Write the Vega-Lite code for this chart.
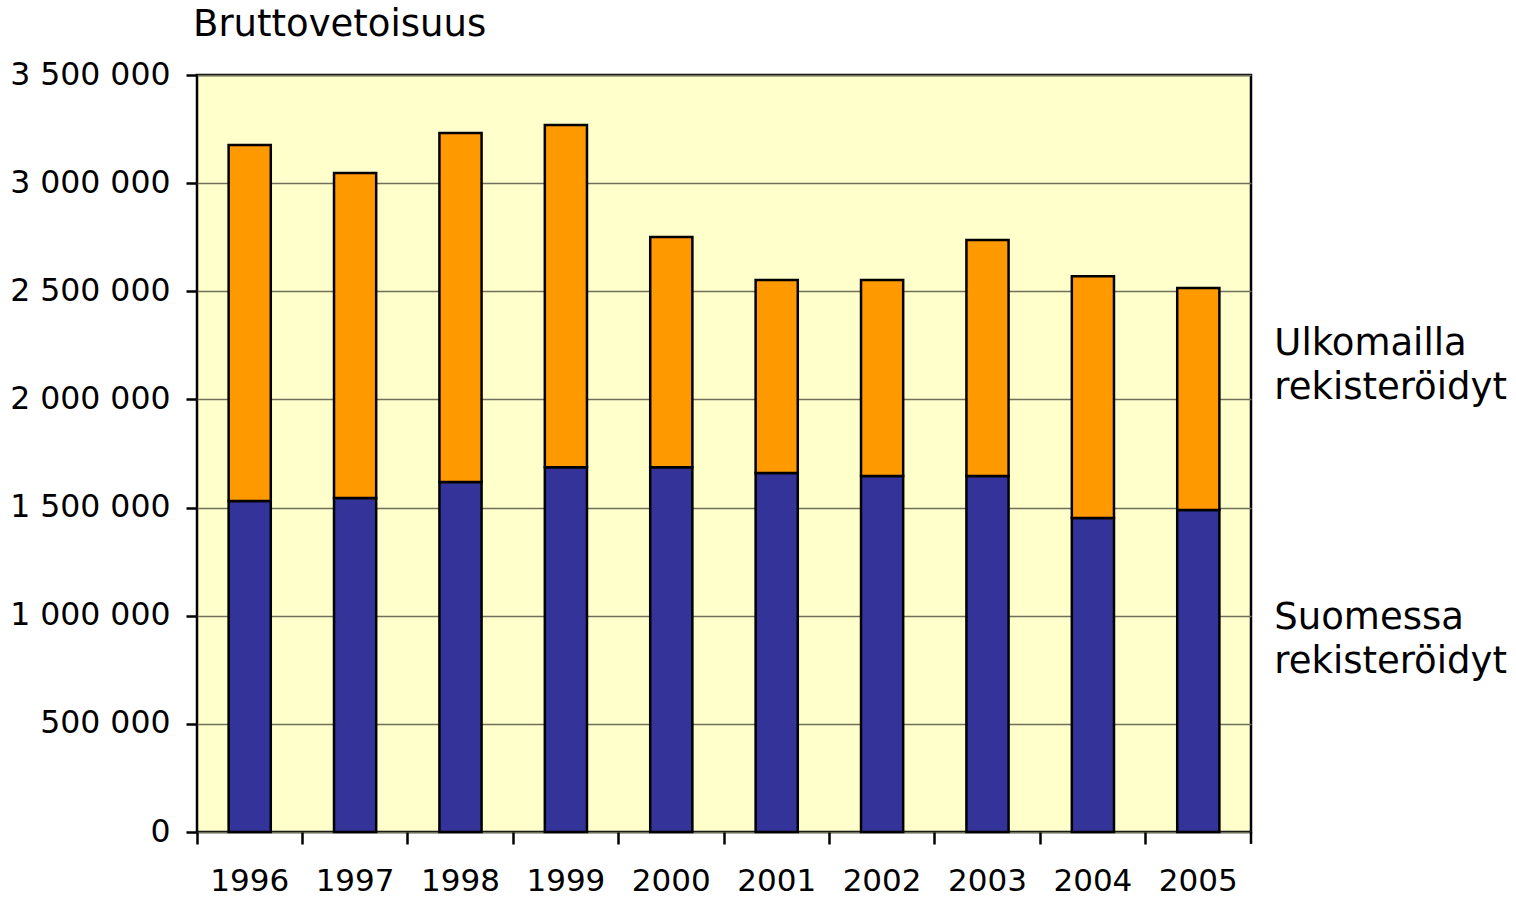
{
  "$schema": "https://vega.github.io/schema/vega-lite/v6.json",
  "autosize": {"type": "none"},
  "padding": {"left": 197, "top": 75, "right": 265, "bottom": 68},
  "width": 1054,
  "height": 757,
  "background": "#FFFFFF",
  "config": {
    "font": "DejaVu Sans",
    "view": {"fill": "#FFFFCC", "stroke": "#000000", "strokeWidth": 2.5}
  },
  "title": {
    "text": "Bruttovetoisuus",
    "anchor": "start",
    "frame": "group",
    "fontSize": 37,
    "fontWeight": "normal",
    "font": "DejaVu Sans",
    "color": "#000000",
    "baseline": "alphabetic",
    "offset": -14,
    "dx": -4
  },
  "data": {
    "values": [
      {"year": 1996, "series": "Suomessa rekisteröidyt", "gt": 1530000},
      {"year": 1996, "series": "Ulkomailla rekisteröidyt", "gt": 1646000},
      {"year": 1997, "series": "Suomessa rekisteröidyt", "gt": 1544000},
      {"year": 1997, "series": "Ulkomailla rekisteröidyt", "gt": 1503000},
      {"year": 1998, "series": "Suomessa rekisteröidyt", "gt": 1618000},
      {"year": 1998, "series": "Ulkomailla rekisteröidyt", "gt": 1614000},
      {"year": 1999, "series": "Suomessa rekisteröidyt", "gt": 1687000},
      {"year": 1999, "series": "Ulkomailla rekisteröidyt", "gt": 1582000},
      {"year": 2000, "series": "Suomessa rekisteröidyt", "gt": 1687000},
      {"year": 2000, "series": "Ulkomailla rekisteröidyt", "gt": 1064000},
      {"year": 2001, "series": "Suomessa rekisteröidyt", "gt": 1660000},
      {"year": 2001, "series": "Ulkomailla rekisteröidyt", "gt": 892000},
      {"year": 2002, "series": "Suomessa rekisteröidyt", "gt": 1646000},
      {"year": 2002, "series": "Ulkomailla rekisteröidyt", "gt": 906000},
      {"year": 2003, "series": "Suomessa rekisteröidyt", "gt": 1646000},
      {"year": 2003, "series": "Ulkomailla rekisteröidyt", "gt": 1091000},
      {"year": 2004, "series": "Suomessa rekisteröidyt", "gt": 1452000},
      {"year": 2004, "series": "Ulkomailla rekisteröidyt", "gt": 1118000},
      {"year": 2005, "series": "Suomessa rekisteröidyt", "gt": 1489000},
      {"year": 2005, "series": "Ulkomailla rekisteröidyt", "gt": 1026000}
    ]
  },
  "layer": [
    {
      "mark": {"type": "bar", "width": {"band": 0.4}, "stroke": "#000000", "strokeWidth": 2.5},
      "encoding": {
        "x": {
          "field": "year",
          "type": "ordinal",
          "scale": {"paddingInner": 0, "paddingOuter": 0},
          "axis": {
            "title": null,
            "domain": false,
            "bandPosition": 0,
            "ticks": true,
            "tickSize": 12,
            "tickWidth": 2.5,
            "tickColor": "#000000",
            "labelAngle": 0,
            "labelFontSize": 31,
            "labelColor": "#000000",
            "labelPadding": 22,
            "labelFont": "DejaVu Sans"
          }
        },
        "y": {
          "field": "gt",
          "type": "quantitative",
          "stack": "zero",
          "scale": {"domain": [0, 3500000], "nice": false},
          "axis": {
            "title": null,
            "domain": false,
            "values": [0, 500000, 1000000, 1500000, 2000000, 2500000, 3000000, 3500000],
            "labelExpr": "replace(format(datum.value, ','), regexp(',', 'g'), ' ')",
            "tickSize": 11,
            "tickWidth": 2.5,
            "tickColor": "#000000",
            "labelFontSize": 31.5,
            "labelColor": "#000000",
            "labelPadding": 16,
            "labelFont": "DejaVu Sans",
            "grid": true,
            "gridColor": "#6f6f5c",
            "gridWidth": 1.5,
            "gridOpacity": 1
          }
        },
        "color": {
          "field": "series",
          "type": "nominal",
          "scale": {"domain": ["Suomessa rekisteröidyt", "Ulkomailla rekisteröidyt"], "range": ["#333399", "#FF9900"]},
          "legend": null
        },
        "order": {"field": "series", "sort": "ascending"}
      }
    },
    {
      "data": {"values": [{}]},
      "mark": {"type": "rule", "stroke": "#000000", "strokeWidth": 2.5},
      "encoding": {
        "x": {"datum": 2005, "type": "ordinal", "bandPosition": 1},
        "y": {"datum": 0, "type": "quantitative"},
        "y2": {"datum": -55000}
      }
    },
    {
      "data": {"values": [{}]},
      "mark": {"type": "text", "align": "left", "baseline": "middle", "fontSize": 37, "font": "DejaVu Sans", "color": "#000000", "lineHeight": 44, "dx": 76},
      "encoding": {
        "x": {"datum": 2005, "type": "ordinal"},
        "y": {"datum": 2256000, "type": "quantitative"},
        "text": {"value": ["Ulkomailla", "rekisteröidyt"]}
      }
    },
    {
      "data": {"values": [{}]},
      "mark": {"type": "text", "align": "left", "baseline": "middle", "fontSize": 37, "font": "DejaVu Sans", "color": "#000000", "lineHeight": 44, "dx": 76},
      "encoding": {
        "x": {"datum": 2005, "type": "ordinal"},
        "y": {"datum": 989000, "type": "quantitative"},
        "text": {"value": ["Suomessa", "rekisteröidyt"]}
      }
    }
  ]
}
